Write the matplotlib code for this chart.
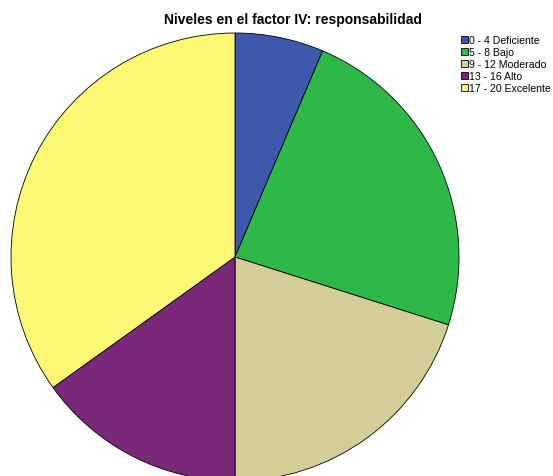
import matplotlib.pyplot as plt
from matplotlib.patches import Patch

# Niveles en el factor IV: responsabilidad
labels = ['0 - 4 Deficiente', '5 - 8 Bajo', '9 - 12 Moderado', '13 - 16 Alto', '17 - 20 Excelente']
values = [6.4, 23.5, 20.1, 15.1, 34.9]
colors = ['#3E58AC', '#2EB848', '#D3CE97', '#7A287A', '#FBF873']

W, H = 553, 477
fig = plt.figure(figsize=(W / 100, H / 100), dpi=100)
fig.patch.set_facecolor('white')

# pie centre ~ (235, 258) px, radius ~224 px
cx, cy, r = 235, 258, 224
ax = fig.add_axes([(cx - r) / W, (H - cy - r) / H, 2 * r / W, 2 * r / H])
ax.pie(values, colors=colors, startangle=90, counterclock=False, radius=1,
       wedgeprops=dict(edgecolor='black', linewidth=0.6))
ax.set_xlim(-1, 1)
ax.set_ylim(-1, 1)
ax.set_aspect('equal')
ax.axis('off')

fig.text(293 / W, 1 - 20 / H, 'Niveles en el factor IV: responsabilidad',
         ha='center', va='center', fontsize=10, fontweight='bold',
         family=['Liberation Sans', 'DejaVu Sans'])

handles = [Patch(facecolor=c, edgecolor='black', linewidth=0.6) for c in colors]
fig.legend(handles, labels, loc='upper left', bbox_to_anchor=(461 / W, 1 - 36 / H),
           frameon=False, prop={'family': 'Liberation Sans', 'size': 7.6},
           handlelength=0.65, handleheight=0.65, handletextpad=0.15,
           labelspacing=0.2, borderpad=0, borderaxespad=0)

fig.savefig('out.png', dpi=100)
